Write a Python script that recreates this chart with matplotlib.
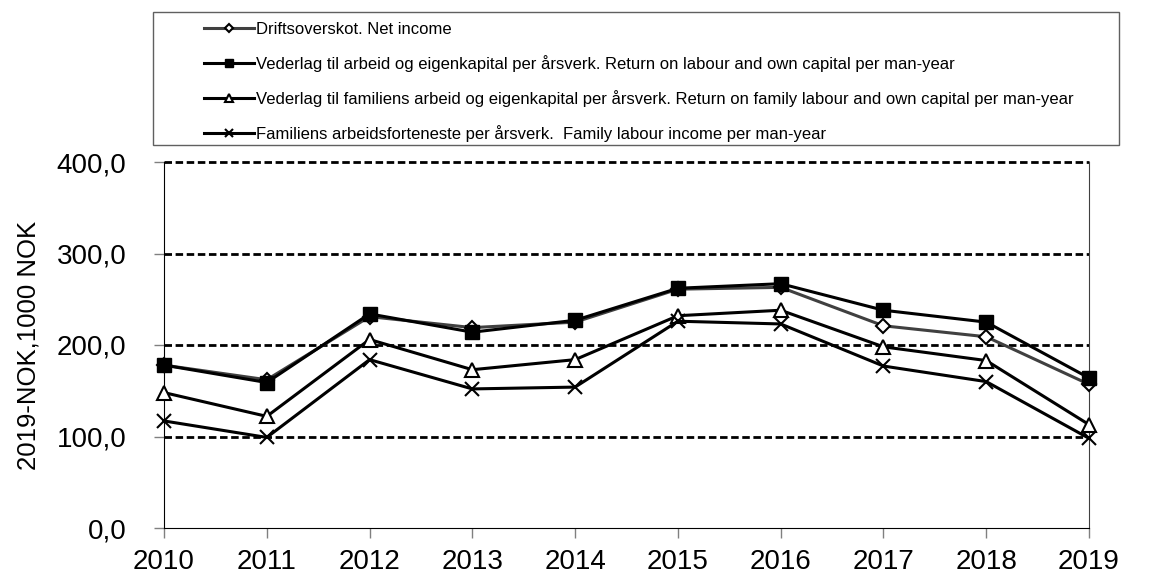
import matplotlib
matplotlib.use("Agg")
import matplotlib.pyplot as plt
from matplotlib.patches import Rectangle

plt.rcParams['font.family'] = ['Liberation Sans', 'DejaVu Sans']

years = [2010, 2011, 2012, 2013, 2014, 2015, 2016, 2017, 2018, 2019]
net_income = [178, 162, 231, 219, 225, 261, 263, 221, 209, 157]
return_labour_capital = [178, 159, 234, 214, 227, 262, 267, 238, 225, 164]
return_family_labour_capital = [148, 122, 206, 173, 184, 232, 238, 198, 183, 113]
family_labour_income = [117, 99, 184, 152, 154, 226, 223, 177, 160, 98]

labels = [
    "Driftsoverskot. Net income",
    "Vederlag til arbeid og eigenkapital per årsverk. Return on labour and own capital per man-year",
    "Vederlag til familiens arbeid og eigenkapital per årsverk. Return on family labour and own capital per man-year",
    "Familiens arbeidsforteneste per årsverk.  Family labour income per man-year",
]
yticks = [0, 100, 200, 300, 400]
ytick_labels = ["0,0", "100,0", "200,0", "300,0", "400,0"]

fig = plt.figure(figsize=(11.56, 5.76), dpi=100)
ax = fig.add_axes([164/1156, 48/576, (1089-164)/1156, (528-162)/576])

h1, = ax.plot(years, net_income, color='#404040', lw=2.2, marker='D', ms=7,
              mfc='white', mec='black', mew=1.5, zorder=3, clip_on=False)
h2, = ax.plot(years, return_labour_capital, color='black', lw=2.2, marker='s', ms=10,
              mfc='black', mec='black', zorder=4, clip_on=False)
h3, = ax.plot(years, return_family_labour_capital, color='black', lw=2.2, marker='^', ms=10.5,
              mfc='white', mec='black', mew=1.5, zorder=3, clip_on=False)
h4, = ax.plot(years, family_labour_income, color='black', lw=2.2, marker='x', ms=10,
              mec='black', mew=1.5, zorder=3, clip_on=False)

ax.set_xlim(2010, 2019)
ax.set_ylim(0, 400)
ax.set_yticks(yticks)
ax.set_yticklabels(ytick_labels)
ax.set_xticks(years)
ax.set_xticklabels([str(y) for y in years])
ax.tick_params(axis='both', labelsize=20, direction='out', length=7, width=1, color='#808080')
ax.tick_params(axis='x', pad=8)
ax.tick_params(axis='y', pad=20)
for yv in yticks[1:]:
    ax.axhline(yv, color='black', lw=2, ls=(0, (2.7, 1.3)), zorder=1, clip_on=False)
ax.spines['top'].set_visible(False)
ax.spines['right'].set_color('#404040')
ax.spines['left'].set_color('black')
ax.spines['bottom'].set_color('black')
ax.set_ylabel("2019-NOK,1000 NOK", fontsize=18.5)
ax.yaxis.set_label_coords(-0.134, 0.5)

# legend frame
fig.patches.append(Rectangle((153/1156, 1-145/576), (1119-153)/1156, (145-12)/576,
                             transform=fig.transFigure, facecolor='white',
                             edgecolor='#606060', lw=1))
leg = fig.legend([h1, h2, h3, h4], labels, loc='upper left',
                 bbox_to_anchor=(197/1156, 1-15/576), frameon=False, fontsize=12,
                 markerscale=0.6, handlelength=3.0, handletextpad=0.15,
                 labelspacing=1.08, borderaxespad=0)

fig.savefig("out.png", dpi=100)
